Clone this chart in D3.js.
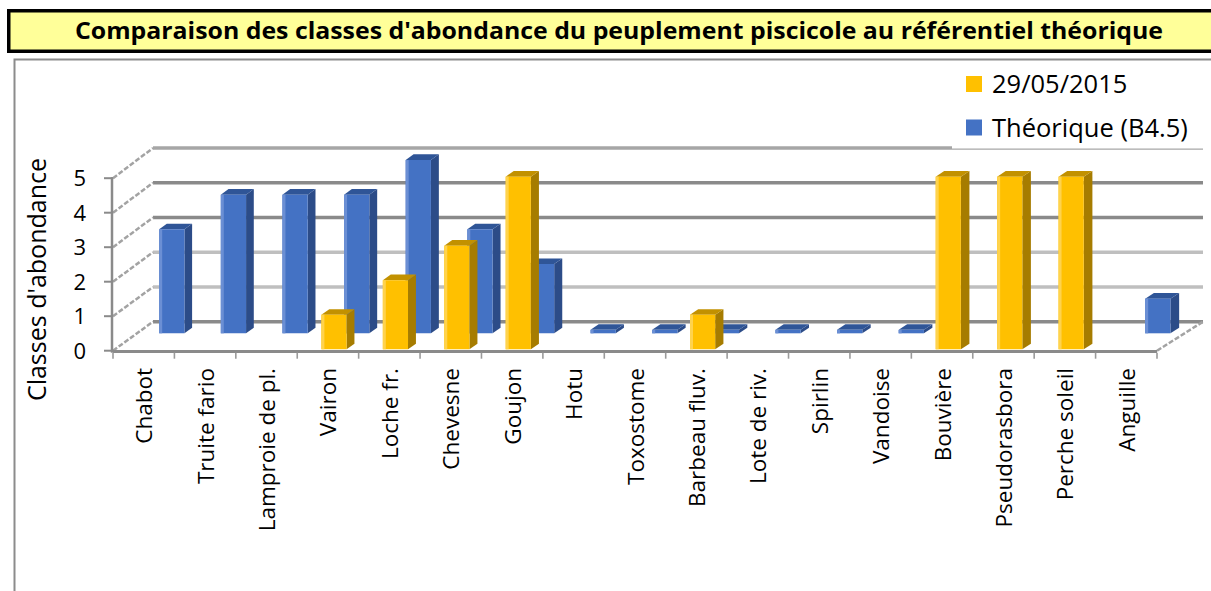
<!DOCTYPE html>
<html>
<head>
<meta charset="utf-8">
<script src="https://cdn.jsdelivr.net/npm/d3@7"></script>
<style>
  html, body { margin: 0; padding: 0; background: #ffffff; }
  svg { display: block; font-family: "Open Sans", "DejaVu Sans", sans-serif; }
</style>
</head>
<body>
<svg id="chart" width="1211" height="591"></svg>
<script>
// Espèces (axe des catégories)
const categories = [
  "Chabot", "Truite fario", "Lamproie de pl.", "Vairon", "Loche fr.", "Chevesne",
  "Goujon", "Hotu", "Toxostome", "Barbeau fluv.", "Lote de riv.", "Spirlin",
  "Vandoise", "Bouvière", "Pseudorasbora", "Perche soleil", "Anguille"
];
// Classes d'abondance observées lors de la pêche du 29/05/2015 (null = espèce absente)
const observedClasses = [null, null, null, 1, 2, 3, 5, null, null, 1, null, null, null, 5, 5, 5, null];
// Classes d'abondance théoriques du biotype B4.5 (0.1 = présence)
const theoreticalClasses = [3, 4, 4, 4, 5, 3, 2, 0.1, 0.1, 0.1, 0.1, 0.1, 0.1, null, null, null, 1];
const seriesNames = ["29/05/2015", "Théorique (B4.5)"];
const valueTicks = [0, 1, 2, 3, 4, 5];
const titleText = "Comparaison des classes d'abondance du peuplement piscicole au référentiel théorique";
const axisTitle = "Classes d'abondance";

const svg = d3.select("#chart");

// ---- 3D-like oblique projection -------------------------------------------
const x = d3.scaleBand().domain(categories).range([113, 1157]);
const yFront = d3.scaleLinear().domain([0, 5]).range([350.7, 178.2]);
const yBack  = d3.scaleLinear().domain([0, 5]).range([321.7, 148]);
const depthShift = d3.scaleLinear().domain([113, 1157]).range([40, 46]);

// xu: position on the front plane, v: value, z: depth (0 = front, 1 = back wall)
function proj(xu, v, z) {
  return [xu + z * depthShift(xu), (1 - z) * yFront(v) + z * yBack(v)];
}
const poly = pts => "M" + pts.map(p => p[0].toFixed(2) + "," + p[1].toFixed(2)).join("L") + "Z";

// ---- chart area frame ---------------------------------------------------
svg.append("path")
  .attr("d", "M14.5,600V59.5H1230")
  .attr("fill", "none").attr("stroke", "#8c8c8c").attr("stroke-width", 2);

// ---- title banner -------------------------------------------------------
svg.append("rect")
  .attr("x", 8.75).attr("y", 10.75).attr("width", 1230).attr("height", 40.5)
  .attr("fill", "#ffff99").attr("stroke", "#000").attr("stroke-width", 3.5);
svg.append("text")
  .attr("x", 75).attr("y", 38.5)
  .attr("font-size", 24).attr("font-weight", "bold").attr("fill", "#000")
  .attr("textLength", 1088).attr("lengthAdjust", "spacingAndGlyphs")
  .text(titleText);

// ---- back wall gridlines ------------------------------------------------
const x0 = x.range()[0], x1 = x.range()[1];
const gridTone = v => (v === 1 || v === 2) ? "#bfbfbf" : (v === 5 ? "#a6a6a6" : "#8a8a8a");
svg.append("g").selectAll("path.grid").data(valueTicks).join("path")
  .attr("class", "grid")
  .attr("d", v => { const a = proj(x0, v, 1), b = proj(x1, v, 1); return `M${a[0]},${a[1]}L${b[0]},${b[1]}`; })
  .attr("stroke", v => gridTone(v)).attr("stroke-width", 3.5).attr("fill", "none");

// side wall edges (left) and floor edge (right)
const edges = valueTicks.map(v => [proj(x0, v, 0), proj(x0, v, 1)]);
edges.push([proj(x1, 0, 0), proj(x1, 0, 1)]);
svg.append("g").selectAll("path").data(edges).join("path")
  .attr("d", e => `M${e[0][0]},${e[0][1]}L${e[1][0]},${e[1][1]}`)
  .attr("stroke", "#a3a3a3").attr("stroke-width", 2.5)
  .attr("stroke-dasharray", "5,2").attr("fill", "none");

// ---- bars ---------------------------------------------------------------
const bw = x.bandwidth();
const barDepth = 0.19;
const palettes = [
  { front: "#ffc000", light: "#ffd34d", top: "#c29100", side: "#a67c00" },
  { front: "#4472c4", light: "#6b8fd4", top: "#2f5597", side: "#2c4c88" }
];

function drawBars(values, z0, pal) {
  const g = svg.append("g");
  values.forEach((v, i) => {
    if (v === null) return;
    const xa = x(categories[i]) + bw * 0.36;
    const xb = xa + bw * 0.41;
    const z1 = z0 + barDepth;
    g.append("path").attr("fill", pal.side)
      .attr("d", poly([proj(xb, 0, z0), proj(xb, 0, z1), proj(xb, v, z1), proj(xb, v, z0)]));
    g.append("path").attr("fill", pal.top)
      .attr("d", poly([proj(xa, v, z0), proj(xb, v, z0), proj(xb, v, z1), proj(xa, v, z1)]));
    g.append("path").attr("fill", pal.front)
      .attr("d", poly([proj(xa, 0, z0), proj(xb, 0, z0), proj(xb, v, z0), proj(xa, v, z0)]));
    g.append("path").attr("fill", pal.light)
      .attr("d", poly([proj(xa, 0, z0), proj(xa + 3, 0, z0), proj(xa + 3, v, z0), proj(xa, v, z0)]));
  });
}
// back row first, then the front row
drawBars(theoreticalClasses, 0.6, palettes[1]);
drawBars(observedClasses, 0.05, palettes[0]);

// ---- front axes ---------------------------------------------------------
const axisColor = "#8a8a8a";
svg.append("line")
  .attr("x1", x0).attr("x2", x1).attr("y1", yFront(0) + 0.8).attr("y2", yFront(0) + 0.8)
  .attr("stroke", axisColor).attr("stroke-width", 3.2);
svg.append("line")
  .attr("x1", x0 - 1).attr("x2", x0 - 1).attr("y1", yFront(5) - 1).attr("y2", yFront(0) + 2)
  .attr("stroke", axisColor).attr("stroke-width", 2.5);

// category ticks
const boundaries = categories.map(c => x(c)).concat([x1]);
svg.append("g").selectAll("line").data(boundaries).join("line")
  .attr("x1", d => d).attr("x2", d => d)
  .attr("y1", yFront(0) + 2).attr("y2", yFront(0) + 8)
  .attr("stroke", "#9a9a9a").attr("stroke-width", 1.6);

// value ticks and labels
svg.append("g").selectAll("line").data(valueTicks).join("line")
  .attr("x1", x0 - 9).attr("x2", x0)
  .attr("y1", v => yFront(v)).attr("y2", v => yFront(v))
  .attr("stroke", axisColor).attr("stroke-width", 2);
svg.append("g").selectAll("text").data(valueTicks).join("text")
  .attr("x", 86).attr("y", v => yFront(v)).attr("dy", "0.36em")
  .attr("text-anchor", "end").attr("font-size", 22).attr("fill", "#000")
  .text(v => v);

// axis title
svg.append("text")
  .attr("transform", "translate(46,158) rotate(-90)")
  .attr("text-anchor", "end").attr("font-size", 25).attr("fill", "#000")
  .text(axisTitle);

// category labels
svg.append("g").selectAll("text").data(categories).join("text")
  .attr("transform", c => `translate(${x(c) + bw / 2 + 8.5},368) rotate(-90)`)
  .attr("text-anchor", "end").attr("font-size", 22.5).attr("fill", "#000")
  .text(c => c);

// ---- legend -------------------------------------------------------------
svg.append("rect")
  .attr("x", 952).attr("y", 62).attr("width", 260).attr("height", 86.5)
  .attr("fill", "#ffffff");
const legend = svg.append("g").selectAll("g").data(seriesNames).join("g")
  .attr("transform", (d, i) => `translate(966,${76 + i * 43.5})`);
legend.append("rect")
  .attr("width", 16).attr("height", 16)
  .attr("fill", (d, i) => palettes[i].front);
legend.append("text")
  .attr("x", 26).attr("y", 17).attr("font-size", 25.5).attr("fill", "#000")
  .text(d => d);
</script>
</body>
</html>
